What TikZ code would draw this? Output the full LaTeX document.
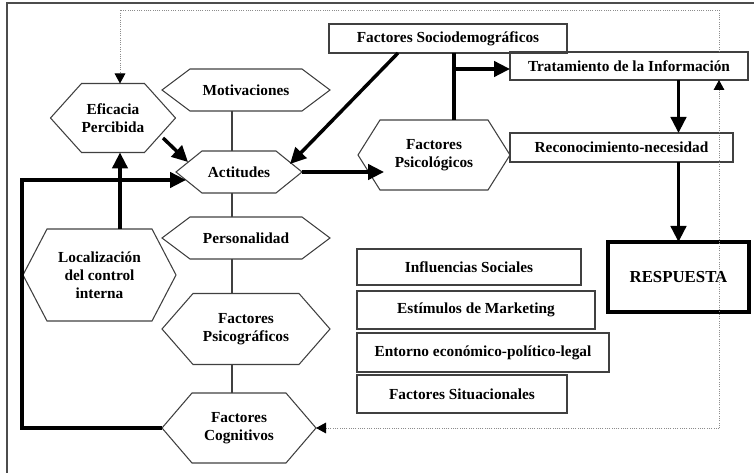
\documentclass[tikz,border=0pt]{standalone}
\usepackage{fontspec}
\setmainfont{Liberation Serif}
\usetikzlibrary{arrows.meta,calc}
\tikzset{
  box/.style 2 args={minimum width=#1*0.75pt, minimum height=#2*0.75pt, inner sep=0pt, outer sep=0pt, align=center,
    font=\fontsize{11.5}{13.6}\selectfont\bfseries},
  rbox/.style={draw=black!75, line width=0.8pt},
  hexline/.style={draw=black!75, line width=0.8pt},
  thick arrow/.style={line width=2.6pt, -{Triangle[length=12pt,width=11.5pt]}},
  thick line/.style={line width=2.6pt},
  thin line/.style={draw=black!75, line width=0.8pt},
  dotline/.style={draw=black!45, line width=0.7pt, densely dotted},
  dottip/.style={-{Triangle[length=7.5pt,width=8pt,color=black,sep=0pt]}},
}
\newcommand\hexout[2]{\draw[hexline] (#1.west) -- ($(#1.north west)+(#2,0)$) -- ($(#1.north east)+(-#2,0)$) -- (#1.east) -- ($(#1.south east)+(-#2,0)$) -- ($(#1.south west)+(#2,0)$) -- cycle;}
\begin{document}
\begin{tikzpicture}[x=0.75pt,y=-0.75pt]
\useasboundingbox (0,0) rectangle (754,473);
% frame
\draw[draw=black!70, line width=1pt] (7,473) -- (7,3) -- (754,3);
% hexagon nodes
\node[box={125}{69}] (eff) at (113,118) {Eficacia\\Percibida};
\node[box={168}{42}] (mot) at (246,90) {Motivaciones};
\node[box={126}{42}] (act) at (239,172) {Actitudes};
\node[box={168}{42}] (per) at (246,238) {Personalidad};
\node[box={168}{71}] (psg) at (246,329) {Factores\\Psicográficos};
\node[box={154}{70}] (cog) at (239,428) {Factores\\Cognitivos};
\node[box={153}{92}] (loc) at (99.5,275) {Localización\\del control\\interna};
\node[box={152}{70}] (psl) at (434,155) {Factores\\Psicológicos};
\hexout{eff}{31}
\hexout{mot}{28}
\hexout{act}{26}
\hexout{per}{28}
\hexout{psg}{31}
\hexout{cog}{30}
\hexout{loc}{24}
\hexout{psl}{22}
% rectangle nodes
\node[box={238}{29}, rbox] (soc) at (448,38.5) {Factores Sociodemográficos};
\node[box={238}{28}, rbox] (trat) at (629,66) {Tratamiento de la Información};
\node[box={223}{29}, rbox] (rec) at (621.5,147.5) {Reconocimiento-necesidad};
\node[box={224}{36}, rbox] (inf) at (469,267) {Influencias Sociales};
\node[box={238}{38}, rbox] (est) at (476,310) {Estímulos de Marketing};
\node[box={252}{39}, rbox] (ent) at (483,352.5) {Entorno económico-político-legal};
\node[box={210}{38}, rbox] (sit) at (462,394) {Factores Situacionales};
\node[box={141}{70}, draw=black, line width=2.4pt, font=\fontsize{12.6}{14}\selectfont\bfseries] (resp) at (678.5,277) {RESPUESTA};
% helper coordinates
\coordinate (dTR) at (719,10);
\coordinate (dTL) at (120,10);
\coordinate (dBR) at (719,428);
\coordinate (sp) at (232,0);
\coordinate (br) at (454,69);
\coordinate (lp) at (22,180);
% dotted feedback
\draw[dotline, dottip] (trat.north -| dTR) -- (dTR) -- (dTL) -- (eff.north -| dTL);
\draw[dotline, dottip] (dBR) -- (trat.south -| dBR);
\draw[dotline, dottip] (dBR) -- (cog.east);
% thin spine
\draw[thin line] (mot.south -| sp) -- (act.north -| sp);
\draw[thin line] (act.south -| sp) -- (per.north -| sp);
\draw[thin line] (per.south -| sp) -- (psg.north -| sp);
\draw[thin line] (psg.south -| sp) -- (cog.north -| sp);
% thick connectors
\draw[thick arrow] ($(eff.east)+(-12.5,20)$) -- ($(act.west)+(12,-10)$);
\draw[thick arrow] (loc.north -| dTL) -- (eff.south -| dTL);
\draw[thick arrow] ($(soc.south)+(-50,0)$) -- ($(act.east)+(-12,-8)$);
\draw[thick arrow] (act.east) -- ($(act.east -| psl.west)+(26,0)$);
\draw[thick line] (soc.south -| br) -- (psl.north -| br);
\draw[thick arrow] (br) -- (trat.west |- br);
\draw[thick arrow] (trat.south -| resp) -- (rec.north -| resp);
\draw[thick arrow] (rec.south -| resp) -- (resp.north);
\draw[thick arrow] (cog.west) -| (lp) -- ($(act.west |- lp)+(10,0)$);
\end{tikzpicture}
\end{document}
